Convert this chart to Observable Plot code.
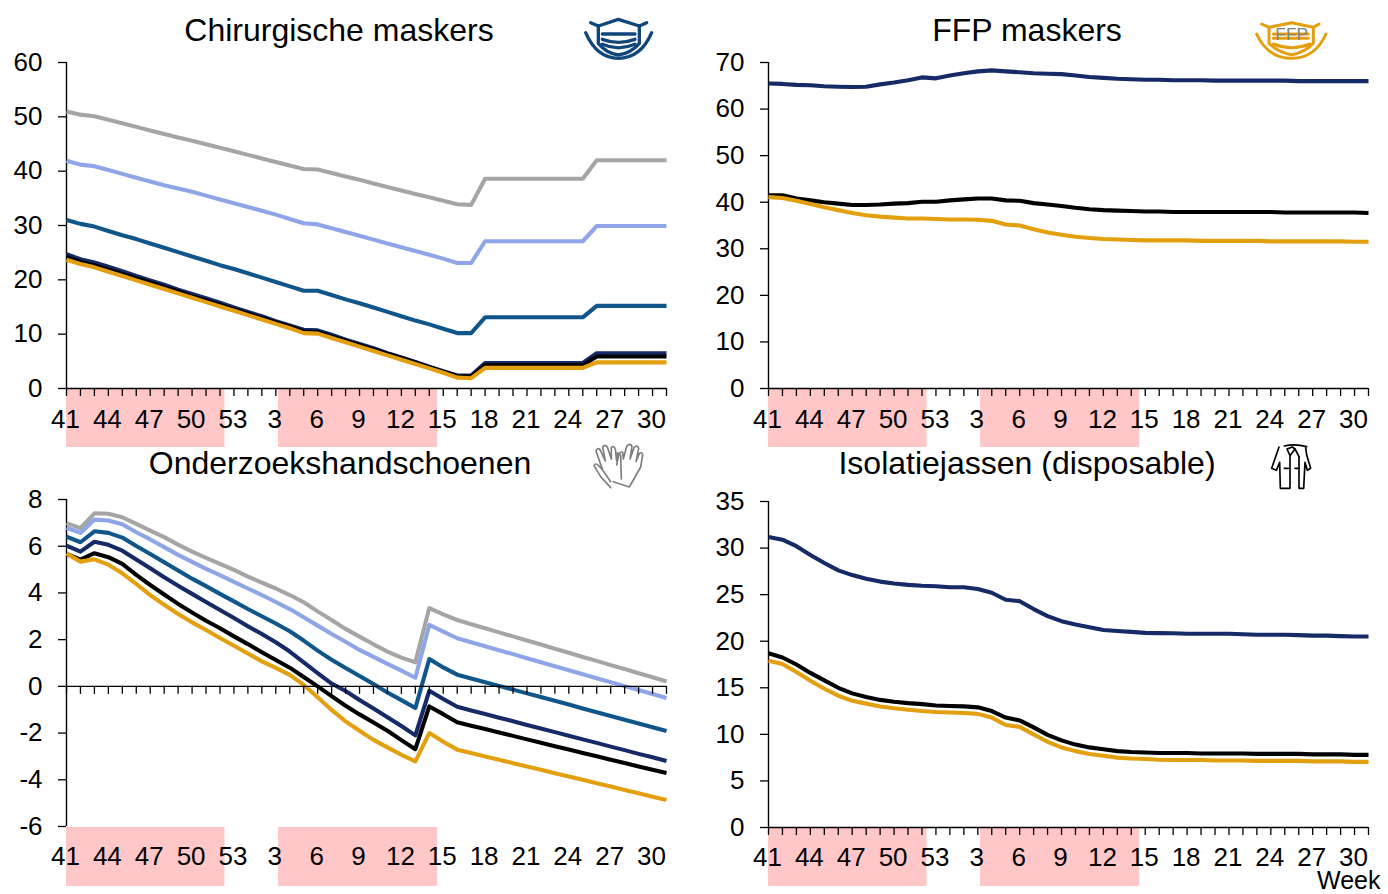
<!DOCTYPE html>
<html><head><meta charset="utf-8">
<script src="https://cdn.jsdelivr.net/npm/d3@7"></script>
<script src="https://cdn.jsdelivr.net/npm/@observablehq/plot@0.6"></script>
<style>
html,body{margin:0;padding:0;background:#fff;overflow:hidden}
#page{position:relative;width:1388px;height:894px;font-family:"Liberation Sans",Arial,sans-serif;color:#000;overflow:hidden}
.panel{position:absolute}
.title{position:absolute;font-size:32px;line-height:36px;white-space:nowrap;transform:translateX(-50%)}
.week{position:absolute;font-size:25px;line-height:27px}
.icon{position:absolute;fill:none;stroke-linecap:round;stroke-linejoin:round}
</style></head><body><div id="page"></div>
<script>
const weeks = [41,42,43,44,45,46,47,48,49,50,51,52,53,1,2,3,4,5,6,7,8,9,10,11,12,13,14,15,16,17,18,19,20,21,22,23,24,25,26,27,28,29,30,31];
const labelIndex = [0,3,6,9,12,15,18,21,24,27,30,33,36,39,42];
const colors = {grey:"#a5a5a5", light:"#8ea5e8", mid:"#11568a", navy:"#152a66", black:"#000000", orange:"#e49f0f"};
const pinkBands = [[0,11.36],[15.2,26.6]];

const surgGrey = [51,50.4,50.1,49.45,48.8,48.15,47.5,46.85,46.2,45.6,44.95,44.3,43.65,43,42.35,41.7,41.05,40.4,40.3,39.65,39,38.4,37.75,37.1,36.45,35.8,35.2,34.55,33.9,33.8,38.6,38.6,38.6,38.6,38.6,38.6,38.6,38.6,42,42,42,42,42,42];
const surgLight = [41.9,41.2,40.9,40.2,39.5,38.8,38.1,37.4,36.8,36.2,35.5,34.8,34.1,33.4,32.7,32,31.2,30.4,30.2,29.5,28.8,28.1,27.4,26.7,26,25.3,24.6,23.9,23.1,23.1,27.1,27.1,27.1,27.1,27.1,27.1,27.1,27.1,29.9,29.9,29.9,29.9,29.9,29.9];
const surgMid = [31,30.3,29.8,29,28.2,27.5,26.7,25.9,25.1,24.3,23.5,22.7,22,21.2,20.4,19.6,18.8,18,18,17.2,16.4,15.7,14.9,14.1,13.3,12.5,11.8,11,10.2,10.2,13.1,13.1,13.1,13.1,13.1,13.1,13.1,13.1,15.2,15.2,15.2,15.2,15.2,15.2];
const surgNavy = [24.7,23.8,23.2,22.4,21.6,20.7,19.9,19.1,18.2,17.4,16.6,15.8,14.9,14.1,13.3,12.4,11.6,10.8,10.7,9.9,9,8.2,7.4,6.5,5.7,4.9,4,3.2,2.4,2.4,4.7,4.7,4.7,4.7,4.7,4.7,4.7,4.7,6.5,6.5,6.5,6.5,6.5,6.5];
const surgBlack = [24.2,23.3,22.7,21.9,21.1,20.3,19.5,18.7,17.9,17,16.2,15.4,14.6,13.8,13,12.2,11.4,10.5,10.4,9.6,8.8,8,7.2,6.4,5.6,4.8,3.9,3.1,2.3,2.2,4.3,4.3,4.3,4.3,4.3,4.3,4.3,4.3,5.9,5.9,5.9,5.9,5.9,5.9];
const surgOrange = [23.7,22.9,22.3,21.5,20.7,19.9,19.1,18.3,17.5,16.7,15.9,15.1,14.3,13.5,12.7,11.9,11.1,10.2,10.1,9.3,8.5,7.7,6.9,6.1,5.3,4.5,3.7,2.9,2,1.9,3.8,3.8,3.8,3.8,3.8,3.8,3.8,3.8,4.8,4.8,4.8,4.8,4.8,4.8];

const ffpNavy = [65.5,65.4,65.2,65.1,64.9,64.8,64.75,64.8,65.3,65.7,66.2,66.8,66.6,67.2,67.7,68.1,68.3,68.1,67.9,67.7,67.6,67.5,67.2,66.9,66.7,66.5,66.4,66.3,66.3,66.2,66.2,66.2,66.1,66.1,66.1,66.1,66.1,66.1,66,66,66,66,66,66];
const ffpBlack = [41.5,41.5,40.8,40.4,40,39.7,39.4,39.4,39.5,39.7,39.8,40.1,40.1,40.4,40.6,40.8,40.8,40.4,40.3,39.8,39.5,39.2,38.8,38.5,38.3,38.2,38.1,38,38,37.9,37.9,37.9,37.9,37.9,37.9,37.9,37.9,37.8,37.8,37.8,37.8,37.8,37.8,37.7];
const ffpOrange = [41.1,40.9,40.3,39.6,38.9,38.3,37.7,37.2,36.9,36.7,36.5,36.5,36.4,36.3,36.3,36.25,36,35.2,35,34.2,33.5,33,32.6,32.3,32.1,32,31.9,31.8,31.8,31.8,31.8,31.7,31.7,31.7,31.7,31.7,31.6,31.6,31.6,31.6,31.6,31.6,31.5,31.5];

const gloveGrey = [6.99,6.77,7.41,7.39,7.24,6.96,6.67,6.39,6.07,5.77,5.5,5.24,4.99,4.7,4.44,4.19,3.91,3.6,3.21,2.84,2.46,2.13,1.8,1.49,1.23,1.03,3.35,3.08,2.84,2.66,2.49,2.31,2.14,1.96,1.79,1.61,1.44,1.26,1.09,0.91,0.74,0.56,0.39,0.21];
const gloveLight = [6.79,6.57,7.14,7.1,6.94,6.6,6.29,5.96,5.63,5.33,5.03,4.76,4.47,4.19,3.91,3.61,3.31,2.96,2.6,2.24,1.91,1.56,1.26,0.96,0.67,0.37,2.63,2.34,2.06,1.89,1.72,1.55,1.38,1.2,1.03,0.86,0.69,0.52,0.35,0.18,0.01,-0.16,-0.33,-0.5];
const gloveMid = [6.41,6.17,6.64,6.57,6.37,6.01,5.67,5.31,4.96,4.61,4.29,3.96,3.64,3.31,3,2.69,2.36,1.96,1.53,1.14,0.79,0.44,0.1,-0.26,-0.59,-0.93,1.17,0.81,0.5,0.34,0.18,0.02,-0.14,-0.3,-0.46,-0.62,-0.78,-0.95,-1.11,-1.27,-1.43,-1.59,-1.75,-1.91];
const gloveNavy = [6.03,5.77,6.19,6.06,5.81,5.43,5.06,4.67,4.31,3.96,3.61,3.27,2.93,2.57,2.24,1.89,1.49,1.03,0.57,0.12,-0.2,-0.58,-0.95,-1.32,-1.7,-2.1,-0.19,-0.54,-0.87,-1.03,-1.18,-1.34,-1.49,-1.65,-1.8,-1.96,-2.11,-2.27,-2.42,-2.58,-2.73,-2.89,-3.04,-3.2];
const gloveBlack = [5.67,5.43,5.7,5.53,5.24,4.77,4.34,3.93,3.53,3.16,2.81,2.49,2.14,1.81,1.46,1.13,0.8,0.4,0,-0.42,-0.83,-1.2,-1.55,-1.9,-2.3,-2.69,-0.86,-1.19,-1.54,-1.69,-1.83,-1.98,-2.12,-2.27,-2.41,-2.56,-2.7,-2.85,-2.99,-3.14,-3.28,-3.43,-3.57,-3.71];
const gloveOrange = [5.69,5.34,5.44,5.21,4.84,4.39,3.91,3.49,3.1,2.74,2.41,2.07,1.74,1.41,1.07,0.79,0.49,0.06,-0.47,-1.01,-1.5,-1.9,-2.29,-2.61,-2.93,-3.21,-2,-2.37,-2.71,-2.85,-3,-3.14,-3.29,-3.43,-3.57,-3.72,-3.86,-4,-4.15,-4.29,-4.44,-4.58,-4.73,-4.87];

const gownNavy = [31.2,30.9,30.2,29.25,28.4,27.6,27.1,26.7,26.4,26.2,26.05,25.95,25.9,25.8,25.8,25.6,25.2,24.45,24.3,23.45,22.7,22.15,21.8,21.5,21.2,21.1,21,20.9,20.87,20.85,20.8,20.8,20.8,20.8,20.75,20.7,20.7,20.7,20.65,20.6,20.6,20.55,20.5,20.5];
const gownBlack = [18.7,18.25,17.5,16.6,15.8,15,14.4,14,13.7,13.5,13.35,13.25,13.1,13.05,13,12.9,12.5,11.8,11.5,10.75,9.95,9.35,8.9,8.6,8.4,8.2,8.1,8.05,8,8,8,7.95,7.95,7.95,7.95,7.9,7.9,7.9,7.9,7.85,7.85,7.85,7.8,7.8];
const gownOrange = [17.9,17.55,16.7,15.75,14.9,14.15,13.6,13.3,13,12.8,12.65,12.5,12.4,12.35,12.3,12.2,11.8,11,10.8,10,9.2,8.6,8.2,7.9,7.7,7.5,7.4,7.35,7.27,7.25,7.25,7.25,7.2,7.2,7.2,7.15,7.15,7.15,7.15,7.1,7.1,7.1,7.05,7.05];

const panels = [
 {left:0, top:0, height:448, mt:62, mb:60, gap:0, pad:21, title:"Chirurgische maskers", tx:339, ty:12, domain:[0,60], ticks:[0,10,20,30,40,50,60],
  series:[[surgGrey,"grey"],[surgLight,"light"],[surgMid,"mid"],[surgNavy,"navy"],[surgBlack,"black"],[surgOrange,"orange"]]},
 {left:702, top:0, height:448, mt:62, mb:60, gap:0, pad:21, title:"FFP maskers", tx:1027, ty:12, domain:[0,70], ticks:[0,10,20,30,40,50,60,70],
  series:[[ffpNavy,"navy"],[ffpBlack,"black"],[ffpOrange,"orange"]]},
 {left:0, top:448, height:446, mt:51, mb:68, gap:1, pad:20, title:"Onderzoekshandschoenen", tx:340, ty:445, domain:[-6,8], ticks:[-6,-4,-2,0,2,4,6,8],
  series:[[gloveGrey,"grey"],[gloveLight,"light"],[gloveMid,"mid"],[gloveNavy,"navy"],[gloveBlack,"black"],[gloveOrange,"orange"]]},
 {left:702, top:448, height:446, mt:53, mb:67, gap:0, pad:20, title:"Isolatiejassen (disposable)", tx:1027, ty:445, domain:[0,35], ticks:[0,5,10,15,20,25,30,35],
  series:[[gownNavy,"navy"],[gownBlack,"black"],[gownOrange,"orange"]]}
];

const page = document.getElementById("page");
for (const p of panels) {
  const plotH = p.height - p.mt - p.mb;
  const perPx = (p.domain[1]-p.domain[0]) / plotH;
  const tickSpan = 8 * perPx;
  const bottom = p.domain[0] - p.gap * perPx;
  const bandSpan = 59 * perPx;
  const chart = Plot.plot({
    width: 694, height: p.height,
    marginLeft: 66, marginRight: 28, marginTop: p.mt, marginBottom: p.mb,
    style: {background:"transparent", fontFamily:'"Liberation Sans",Arial,sans-serif', overflow:"visible", color:"#000"},
    x: {type:"linear", domain:[0,43]},
    y: {type:"linear", domain:p.domain},
    marks: [
      Plot.rect(pinkBands, {x1:d=>d[0], x2:d=>d[1], y1:bottom, y2:bottom-bandSpan, fill:"#ffc7c7"}),
      Plot.axisX({ticks:labelIndex, tickSize:0, tickPadding:p.pad, dx:-1, tickFormat:i=>String(weeks[i]), label:null, fontSize:26, anchor:"bottom"}),
      Plot.axisY({ticks:p.ticks, tickSize:8, tickPadding:16, tickFormat:d=>String(d), label:null, fontSize:26, anchor:"left", stroke:"#000", strokeWidth:1.3, color:"#000"}),
      Plot.ruleX([0], {y1:p.domain[0], y2:p.domain[1], stroke:"#000", strokeWidth:1.4}),
      ...p.series.map(([vals,c]) => Plot.line(vals, {x:(d,i)=>i, y:d=>d, stroke:colors[c], strokeWidth:4.1, strokeLinecap:"butt"})),
      Plot.ruleY([0], {x1:0, x2:43, stroke:"#000", strokeWidth:1.4}),
      Plot.ruleX(weeks.map((w,i)=>i), {x:d=>d, y1:0, y2:-tickSpan, stroke:"#000", strokeWidth:1.3})
    ]
  });
  chart.classList.add("panel");
  chart.style.left = p.left+"px"; chart.style.top = p.top+"px";
  page.appendChild(chart);
  const t = document.createElement("div");
  t.className = "title"; t.textContent = p.title;
  t.style.left = p.tx+"px"; t.style.top = p.ty+"px";
  page.appendChild(t);
}
const wk = document.createElement("div");
wk.className = "week"; wk.textContent = "Week";
wk.style.left = "1317px"; wk.style.top = "867px";
page.appendChild(wk);

const maskBlue = `<svg class="icon" style="left:570px;top:10px" width="100" height="60" viewBox="0 0 300 180" stroke="#11467a" stroke-width="10">
<path d="M47 68 Q80 145 145 145 Q212 145 245 68"/><path d="M62 38 L85 48 L145 28 L208 48 L230 38"/>
<path d="M85 48 L85 100 Q110 130 145 135 Q182 130 208 100 L208 48"/>
<path d="M97 72 L195 72"/><path d="M97 88 Q145 106 195 88"/><path d="M97 103 Q145 124 195 103"/></svg>`;
const maskOrange = `<svg class="icon" style="left:1245px;top:10px" width="100" height="60" viewBox="0 0 300 180" stroke="#e49f0f" stroke-width="9">
<path d="M35 72 Q68 145 140 145 Q210 145 243 72"/><path d="M50 42 L72 52 L140 38 L205 52 L222 42"/>
<path d="M72 52 L72 100 Q100 128 140 134 Q180 128 205 100 L205 52"/>
<path d="M85 72 L190 72"/><path d="M85 85 L190 85"/><path d="M85 102 Q140 124 195 102"/>
<text x="140" y="90" text-anchor="middle" font-family="Liberation Sans" font-size="52" fill="#808080" stroke="none">FFP</text></svg>`;
const gloves = `<svg class="icon" style="left:580px;top:435px" width="80" height="60" viewBox="0 0 240 180" stroke="#7f7f7f" stroke-width="5">
<path d="M92 158 L62 125 L42 92 Q46 82 56 92 L68 105 L48 48 Q52 36 60 44 L76 78 L68 36 Q74 26 82 36 L94 72 L94 38 Q102 30 106 42 L110 78 L112 55 Q118 52 122 62 L124 132"/>
<path d="M100 140 L148 156 L182 96 L188 60 Q186 50 178 55 L168 80 L176 40 Q172 28 162 38 L150 72 L156 34 Q150 22 140 34 L130 72 L128 52 Q120 48 116 60 L110 90"/>
<path d="M70 108 L92 140"/></svg>`;
const coat = `<svg class="icon" style="left:1255px;top:435px" width="80" height="60" viewBox="0 0 240 180" stroke="#000" stroke-width="5">
<path d="M88 33 Q120 25 155 35"/><path d="M72 36 L50 100 L64 106 L74 82 L76 160 L105 160 L105 65"/>
<path d="M132 65 L132 160 L146 160 L150 82 L157 106 L167 100 L155 60 L152 38"/>
<path d="M96 42 L105 62 L120 42 L112 36 L96 42"/><path d="M120 42 L132 65"/>
<path d="M88 100 L100 100"/><path d="M120 100 L132 100"/></svg>`;
page.insertAdjacentHTML("beforeend", maskBlue + maskOrange + gloves + coat);
</script></body></html>
